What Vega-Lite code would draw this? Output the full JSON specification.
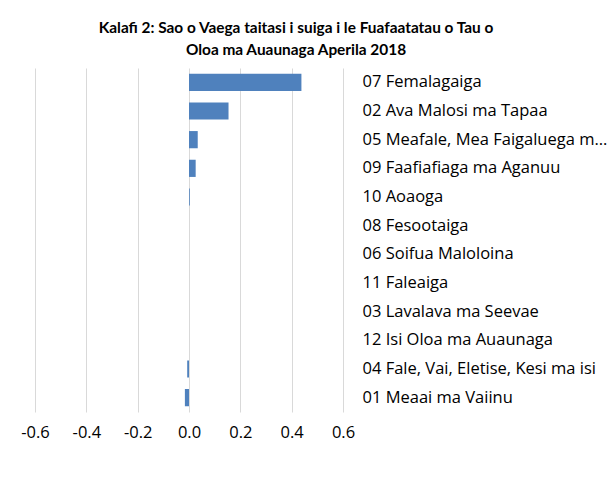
{
  "$schema": "https://vega.github.io/schema/vega-lite/v6.json",
  "autosize": {"type": "none"},
  "width": 308,
  "height": 344,
  "padding": {"left": 35, "top": 68, "right": 267, "bottom": 65},
  "background": "white",
  "title": {
    "text": ["Kalafi 2: Sao o Vaega taitasi i suiga i le Fuafaatatau o Tau o", "Oloa ma Auaunaga Aperila 2018"],
    "anchor": "middle",
    "frame": "group",
    "dx": 107,
    "offset": 10,
    "font": "Lato",
    "fontSize": 15.4,
    "fontWeight": "bold",
    "color": "#000000",
    "lineHeight": 22
  },
  "data": {
    "values": [
      {"category": "07 Femalagaiga", "value": 0.438},
      {"category": "02 Ava Malosi ma Tapaa", "value": 0.154},
      {"category": "05 Meafale, Mea Faigaluega mo le Fale", "value": 0.034},
      {"category": "09 Faafiafiaga ma Aganuu", "value": 0.026},
      {"category": "10 Aoaoga", "value": 0.003},
      {"category": "08 Fesootaiga", "value": 0.0},
      {"category": "06 Soifua Maloloina", "value": 0.0},
      {"category": "11 Faleaiga", "value": 0.0},
      {"category": "03 Lavalava ma Seevae", "value": 0.0},
      {"category": "12 Isi Oloa ma Auaunaga", "value": 0.0},
      {"category": "04 Fale, Vai, Eletise, Kesi ma isi", "value": -0.007},
      {"category": "01 Meaai ma Vaiinu", "value": -0.016}
    ]
  },
  "mark": {"type": "bar", "color": "#4f81bd"},
  "encoding": {
    "y": {
      "field": "category",
      "type": "nominal",
      "sort": null,
      "scale": {"paddingInner": 0.4, "paddingOuter": 0.2},
      "axis": {
        "orient": "right",
        "title": null,
        "domain": false,
        "ticks": false,
        "grid": false,
        "labelPadding": 19,
        "labelFont": "Open Sans",
        "labelFontSize": 16.5,
        "labelColor": "#000000",
        "labelLimit": 250
      }
    },
    "x": {
      "field": "value",
      "type": "quantitative",
      "scale": {"domain": [-0.6, 0.6], "nice": false, "zero": false},
      "axis": {
        "title": null,
        "values": [-0.6, -0.4, -0.2, 0, 0.2, 0.4, 0.6],
        "labelExpr": "replace(format(datum.value, '.1f'), '\u2212', '-')",
        "labelFlush": false,
        "labelOverlap": false,
        "domain": false,
        "ticks": false,
        "grid": true,
        "gridColor": "#d9d9d9",
        "gridWidth": 1,
        "labelPadding": 12,
        "labelFont": "Open Sans",
        "labelFontSize": 16.5,
        "labelColor": "#000000"
      }
    }
  },
  "config": {"view": {"stroke": null}}
}
